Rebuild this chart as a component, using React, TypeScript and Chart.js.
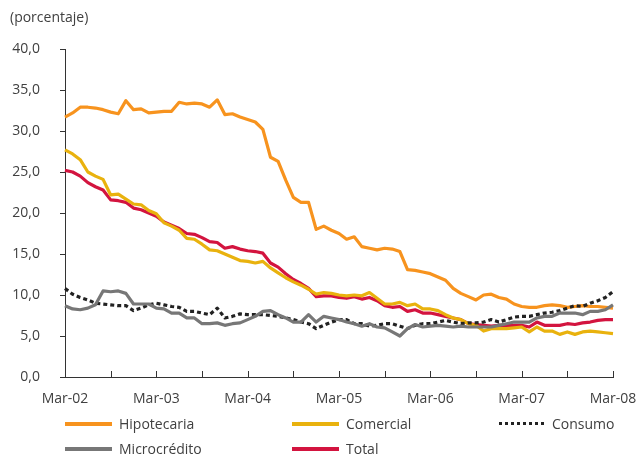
import React, { useEffect, useRef } from "react";
import { Chart, registerables } from "chart.js";

Chart.register(...registerables);

const MONTHS = ["Mar", "Abr", "May", "Jun", "Jul", "Ago", "Sep", "Oct", "Nov", "Dic", "Ene", "Feb"];
const START_YEAR = 2;
const N_POINTS = 73;

const categories: string[] = Array.from({ length: N_POINTS }, (_, i) => {
  const yr = START_YEAR + Math.floor((i + 2) / 12);
  return `${MONTHS[i % 12]}-${String(yr).padStart(2, "0")}`;
});

const hipotecaria = [
  31.7, 32.2, 32.9, 32.9, 32.8, 32.6, 32.3, 32.1, 33.7, 32.6, 32.7, 32.2,
  32.3, 32.4, 32.4, 33.5, 33.3, 33.4, 33.3, 32.9, 33.8, 32.0, 32.1, 31.7,
  31.4, 31.1, 30.2, 26.8, 26.3, 24.0, 21.9, 21.3, 21.3, 18.0, 18.4, 17.9,
  17.5, 16.8, 17.1, 15.9, 15.7, 15.5, 15.7, 15.6, 15.3, 13.1, 13.0, 12.8,
  12.6, 12.2, 11.8, 10.8, 10.2, 9.8, 9.4, 10.0, 10.1, 9.7, 9.5, 8.9,
  8.6, 8.5, 8.5, 8.7, 8.8, 8.7, 8.5, 8.6, 8.7, 8.6, 8.6, 8.5, 8.4,
];

const comercial = [
  27.7, 27.2, 26.5, 25.0, 24.5, 24.1, 22.2, 22.3, 21.7, 21.1, 21.0, 20.3,
  19.9, 18.8, 18.4, 17.9, 16.9, 16.8, 16.2, 15.5, 15.4, 15.0, 14.6, 14.2,
  14.1, 13.9, 14.1, 13.3, 12.7, 12.1, 11.6, 11.2, 10.7, 10.1, 10.3, 10.2,
  10.0, 9.9, 10.0, 9.9, 10.3, 9.6, 8.9, 8.9, 9.1, 8.7, 8.9, 8.3,
  8.3, 8.1, 7.6, 7.2, 7.0, 6.5, 6.3, 5.6, 5.9, 5.9, 5.9, 6.0,
  6.1, 5.5, 6.1, 5.6, 5.6, 5.2, 5.5, 5.2, 5.5, 5.6, 5.5, 5.4, 5.3,
];

const consumo = [
  10.8, 10.1, 9.7, 9.4, 9.0, 8.9, 8.8, 8.7, 8.7, 8.1, 8.4, 8.8,
  9.0, 8.8, 8.6, 8.5, 8.0, 8.0, 7.8, 7.6, 8.4, 7.2, 7.4, 7.7,
  7.6, 7.6, 7.6, 7.5, 7.4, 7.2, 7.0, 6.7, 6.5, 5.9, 6.3, 6.7,
  7.0, 7.0, 6.5, 6.5, 6.2, 6.3, 6.5, 6.5, 6.2, 5.9, 6.3, 6.5,
  6.5, 6.7, 6.9, 6.7, 6.5, 6.6, 6.6, 6.7, 7.0, 6.7, 7.0, 7.3,
  7.4, 7.4, 7.6, 7.8, 7.9, 8.1, 8.4, 8.7, 8.6, 9.0, 9.3, 9.7, 10.4,
];

const microcredito = [
  8.7, 8.3, 8.2, 8.4, 8.8, 10.5, 10.4, 10.5, 10.2, 8.9, 8.9, 8.9,
  8.4, 8.3, 7.8, 7.8, 7.2, 7.2, 6.5, 6.5, 6.6, 6.3, 6.5, 6.6,
  7.0, 7.4, 8.0, 8.1, 7.6, 7.2, 6.7, 6.7, 7.6, 6.7, 7.4, 7.2,
  7.0, 6.7, 6.5, 6.2, 6.5, 6.1, 6.0, 5.5, 5.0, 5.9, 6.4, 6.1,
  6.2, 6.3, 6.2, 6.1, 6.2, 6.1, 6.1, 6.1, 6.1, 6.3, 6.5, 6.7,
  6.7, 6.7, 7.2, 7.4, 7.4, 7.8, 7.8, 7.8, 7.6, 8.0, 8.0, 8.2, 8.8,
];

const total = [
  25.2, 25.0, 24.5, 23.7, 23.2, 22.8, 21.6, 21.5, 21.3, 20.6, 20.4, 20.0,
  19.6, 18.9, 18.5, 18.1, 17.5, 17.4, 17.0, 16.5, 16.4, 15.7, 15.9, 15.6,
  15.4, 15.3, 15.1, 13.9, 13.4, 12.6, 11.9, 11.4, 10.8, 9.8, 9.9, 9.9,
  9.7, 9.6, 9.8, 9.5, 9.7, 9.3, 8.7, 8.5, 8.6, 8.0, 8.2, 7.8,
  7.8, 7.6, 7.4, 7.2, 7.0, 6.5, 6.4, 6.3, 6.2, 6.3, 6.3, 6.3,
  6.3, 6.1, 6.7, 6.3, 6.3, 6.3, 6.5, 6.4, 6.6, 6.7, 6.9, 7.0, 7.0,
];

const Y_MIN = 0;
const Y_MAX = 40;
const Y_STEP = 5;

const COLORS = {
  hipotecaria: "#F7931E",
  comercial: "#E9B20E",
  consumo: "#222222",
  microcredito: "#777777",
  total: "#D3143F",
};

const FONT = "'Open Sans', 'DejaVu Sans', sans-serif";
const TEXT = "#404040";
const AXIS = "#333333";

const inwardTicks = {
  id: "inwardTicks",
  afterDraw(chart: any) {
    const xs = chart.scales.x;
    const area = chart.chartArea;
    const ctx = chart.ctx;
    ctx.save();
    ctx.strokeStyle = AXIS;
    ctx.lineWidth = 1;
    for (let i = 0; i < categories.length; i += 6) {
      const x = Math.round(xs.getPixelForValue(i)) + 0.5;
      ctx.beginPath();
      ctx.moveTo(x, area.bottom);
      ctx.lineTo(x, area.bottom - 6);
      ctx.stroke();
    }
    ctx.restore();
  },
};

const legendItems = [
  { label: "Hipotecaria", color: COLORS.hipotecaria, dotted: false, x: 65, tx: 119, y: 424 },
  { label: "Comercial", color: COLORS.comercial, dotted: false, x: 292, tx: 346, y: 424 },
  { label: "Consumo", color: COLORS.consumo, dotted: true, x: 499, tx: 552, y: 424 },
  { label: "Microcrédito", color: COLORS.microcredito, dotted: false, x: 65, tx: 119, y: 449 },
  { label: "Total", color: COLORS.total, dotted: false, x: 292, tx: 346, y: 449 },
];

export default function App() {
  const canvasRef = useRef<HTMLCanvasElement | null>(null);

  useEffect(() => {
    if (!canvasRef.current) return;
    const line = (label: string, data: number[], color: string, dash?: number[]) => ({
      label,
      data,
      borderColor: color,
      backgroundColor: color,
      borderWidth: 3.2,
      pointRadius: 0,
      tension: 0,
      fill: false,
      borderDash: dash || [],
      borderJoinStyle: "round" as const,
    });
    const chart = new Chart(canvasRef.current, {
      type: "line",
      data: {
        labels: categories,
        datasets: [
          line("Microcrédito", microcredito, COLORS.microcredito),
          line("Consumo", consumo, COLORS.consumo, [4, 3]),
          line("Comercial", comercial, COLORS.comercial),
          line("Total", total, COLORS.total),
          line("Hipotecaria", hipotecaria, COLORS.hipotecaria),
        ],
      },
      options: {
        animation: false,
        responsive: false,
        layout: { padding: { top: 49, right: 26, left: 0, bottom: 0 } },
        plugins: {
          legend: { display: false },
          tooltip: { enabled: false },
        },
        scales: {
          x: {
            type: "category",
            offset: false,
            border: { display: true, color: AXIS, width: 1 },
            grid: { display: true, drawOnChartArea: false, drawTicks: false, color: "rgba(0,0,0,0)" },
            ticks: {
              autoSkip: false,
              maxRotation: 0,
              minRotation: 0,
              padding: 14,
              color: TEXT,
              font: { family: FONT, size: 14 },
              callback: (_v: any, idx: number) => (idx % 12 === 0 ? categories[idx] : ""),
            },
            afterFit: (s: any) => {
              s.height = 81;
              s.paddingLeft = 0;
              s.paddingRight = 0;
            },
          },
          y: {
            min: Y_MIN,
            max: Y_MAX,
            border: { display: true, color: AXIS, width: 1 },
            grid: { display: true, drawOnChartArea: false, drawTicks: true, tickLength: 5, color: AXIS },
            ticks: {
              stepSize: Y_STEP,
              padding: 20,
              color: TEXT,
              font: { family: FONT, size: 14 },
              callback: (v: any) => Number(v).toFixed(1).replace(".", ","),
            },
            afterFit: (s: any) => {
              s.width = 65;
            },
          },
        },
      },
      plugins: [inwardTicks],
    });
    return () => chart.destroy();
  }, []);

  return (
    <div
      style={{
        position: "fixed",
        left: 0,
        top: 0,
        width: 639,
        height: 458,
        background: "#ffffff",
        fontFamily: FONT,
        color: TEXT,
      }}
    >
      <canvas ref={canvasRef} width={639} height={458} style={{ width: 639, height: 458, display: "block" }} />
      <div style={{ position: "absolute", left: 10, top: 7, fontSize: 14, lineHeight: "20px" }}>(porcentaje)</div>
      {legendItems.map((it) => (
        <React.Fragment key={it.label}>
          <div
            style={{
              position: "absolute",
              left: it.x,
              top: it.y - 2,
              width: 47,
              height: it.dotted ? 3 : 4,
              background: it.dotted
                ? `repeating-linear-gradient(90deg, ${it.color} 0px, ${it.color} 3px, transparent 3px, transparent 6px)`
                : it.color,
            }}
          />
          <div
            style={{
              position: "absolute",
              left: it.tx,
              top: it.y - 10,
              fontSize: 14,
              lineHeight: "20px",
              whiteSpace: "nowrap",
            }}
          >
            {it.label}
          </div>
        </React.Fragment>
      ))}
    </div>
  );
}
